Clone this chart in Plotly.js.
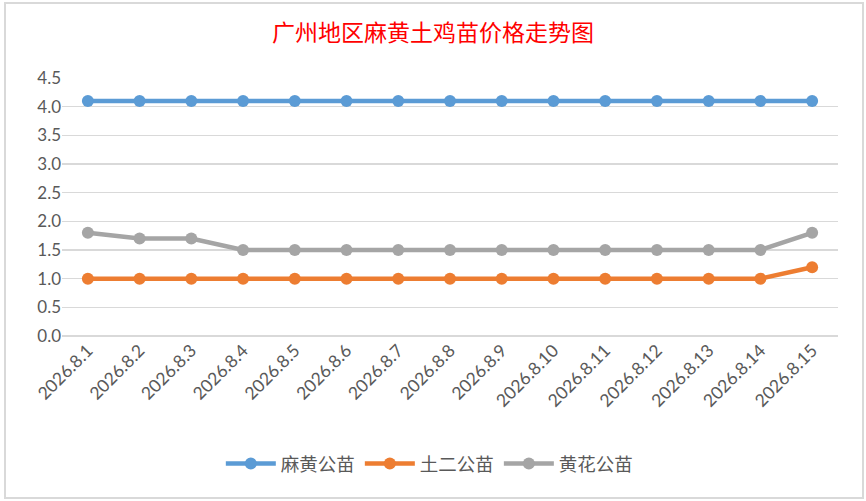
<!DOCTYPE html>
<html>
<head>
<meta charset="utf-8">
<script src="https://cdn.plot.ly/plotly-3.0.1.min.js"></script>
<style>
html,body{margin:0;padding:0;background:#fff;}
#frame{position:absolute;left:4px;top:2px;width:856px;height:493px;border:2px solid #d9d9d9;}
#chart{position:absolute;left:0;top:0;width:866px;height:501px;}
</style>
</head>
<body>
<div id="frame"></div>
<div id="chart"></div>
<script>
const categories = ["2026.8.1","2026.8.2","2026.8.3","2026.8.4","2026.8.5","2026.8.6","2026.8.7","2026.8.8","2026.8.9","2026.8.10","2026.8.11","2026.8.12","2026.8.13","2026.8.14","2026.8.15"];
const mahuang = [4.1,4.1,4.1,4.1,4.1,4.1,4.1,4.1,4.1,4.1,4.1,4.1,4.1,4.1,4.1];
const tuer = [1.0,1.0,1.0,1.0,1.0,1.0,1.0,1.0,1.0,1.0,1.0,1.0,1.0,1.0,1.2];
const huanghua = [1.8,1.7,1.7,1.5,1.5,1.5,1.5,1.5,1.5,1.5,1.5,1.5,1.5,1.5,1.8];
const seriesNames = ["麻黄公苗","土二公苗","黄花公苗"];
const colors = ["#5b9bd5","#ed7d31","#a5a5a5"];
const yTicks = [0,0.5,1,1.5,2,2.5,3,3.5,4,4.5];
const yTickText = ["0.0","0.5","1.0","1.5","2.0","2.5","3.0","3.5","4.0","4.5"];

const font = "Lato, sans-serif";
const data = [mahuang, tuer, huanghua].map((v,i)=>({
  x: categories, y: v, type:'scatter', mode:'lines+markers', name: seriesNames[i],
  line:{color:colors[i], width:4.5}, marker:{color:colors[i], size:12}
}));

const layout = {
  width:866, height:501,
  margin:{l:62, r:28, t:78, b:165},
  paper_bgcolor:'rgba(0,0,0,0)', plot_bgcolor:'rgba(0,0,0,0)',
  title:{text:'广州地区麻黄土鸡苗价格走势图', font:{family:"'Noto Sans CJK SC', sans-serif", size:23, color:'#ff0000'}, x:0.5, xanchor:'center', y:0.935, yanchor:'middle'},
  xaxis:{type:'category', range:[-0.5,14.5], tickangle:-45, showgrid:false, showline:false, ticks:'', zeroline:false,
    tickfont:{family:font, size:17.5, color:'#595959'}, automargin:false, fixedrange:true},
  yaxis:{range:[0,4.5], tickvals:yTicks, ticktext:yTickText, showgrid:true, gridcolor:'#d9d9d9', gridwidth:1.5,
    zeroline:true, zerolinecolor:'#d9d9d9', zerolinewidth:1.5, showline:false, ticks:'',
    tickfont:{family:font, size:17, color:'#595959'}, automargin:false, fixedrange:true},
  showlegend:true,
  legend:{orientation:'h', x:0.474, xanchor:'center', y:-0.496, yanchor:'middle',
    font:{family:"'Noto Sans CJK SC', sans-serif", size:18.5, color:'#595959'}, itemwidth:50, tracegroupgap:0}
};
Plotly.newPlot('chart', data, layout, {displayModeBar:false, staticPlot:true});
</script>
</body>
</html>
